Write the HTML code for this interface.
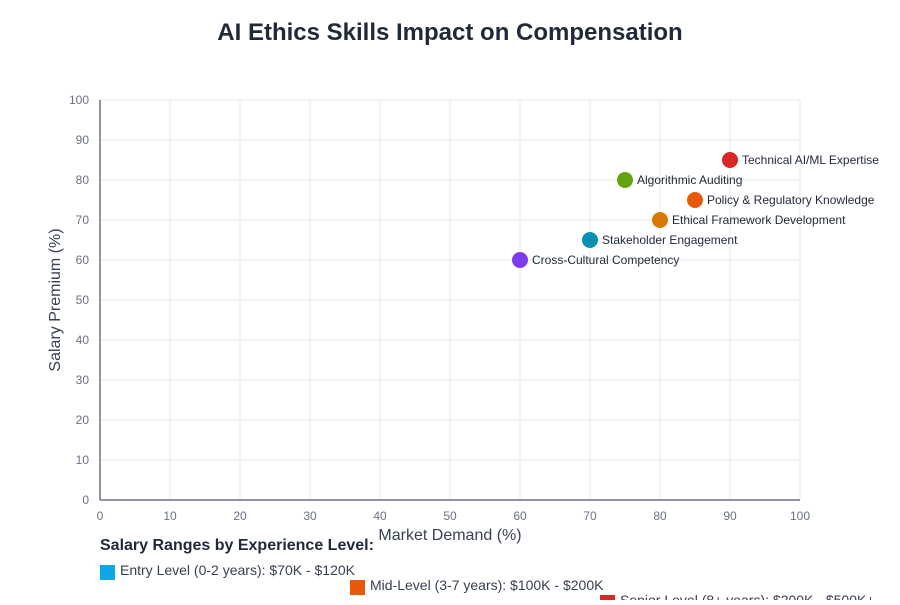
<!DOCTYPE html>
<html><head><meta charset="utf-8"><style>
body{margin:0;background:#fff;width:900px;height:600px;overflow:hidden;font-family:"Liberation Sans",sans-serif}
</style></head><body>
<svg width="900" height="600" xmlns="http://www.w3.org/2000/svg" font-family="Liberation Sans, sans-serif">
<text x="450" y="40" text-anchor="middle" font-size="24" font-weight="bold" fill="#1f2937">AI Ethics Skills Impact on Compensation</text>
<g stroke="#e5e7eb" stroke-width="1">
<line x1="170" y1="100" x2="170" y2="500"/><line x1="240" y1="100" x2="240" y2="500"/><line x1="310" y1="100" x2="310" y2="500"/><line x1="380" y1="100" x2="380" y2="500"/><line x1="450" y1="100" x2="450" y2="500"/><line x1="520" y1="100" x2="520" y2="500"/><line x1="590" y1="100" x2="590" y2="500"/><line x1="660" y1="100" x2="660" y2="500"/><line x1="730" y1="100" x2="730" y2="500"/><line x1="800" y1="100" x2="800" y2="500"/>
<line x1="100" y1="100" x2="800" y2="100"/><line x1="100" y1="140" x2="800" y2="140"/><line x1="100" y1="180" x2="800" y2="180"/><line x1="100" y1="220" x2="800" y2="220"/><line x1="100" y1="260" x2="800" y2="260"/><line x1="100" y1="300" x2="800" y2="300"/><line x1="100" y1="340" x2="800" y2="340"/><line x1="100" y1="380" x2="800" y2="380"/><line x1="100" y1="420" x2="800" y2="420"/><line x1="100" y1="460" x2="800" y2="460"/>
</g>
<line x1="100" y1="100" x2="100" y2="500" stroke="#6b7280" stroke-width="1.5"/>
<line x1="100" y1="500" x2="800" y2="500" stroke="#6b7280" stroke-width="1.5"/>
<g font-size="12" fill="#6b7280" text-anchor="end">
<text x="89" y="104">100</text><text x="89" y="144">90</text><text x="89" y="184">80</text><text x="89" y="224">70</text><text x="89" y="264">60</text><text x="89" y="304">50</text><text x="89" y="344">40</text><text x="89" y="384">30</text><text x="89" y="424">20</text><text x="89" y="464">10</text><text x="89" y="504">0</text>
</g>
<g font-size="12" fill="#6b7280" text-anchor="middle">
<text x="100" y="520">0</text><text x="170" y="520">10</text><text x="240" y="520">20</text><text x="310" y="520">30</text><text x="380" y="520">40</text><text x="450" y="520">50</text><text x="520" y="520">60</text><text x="590" y="520">70</text><text x="660" y="520">80</text><text x="730" y="520">90</text><text x="800" y="520">100</text>
</g>
<text x="450" y="540" text-anchor="middle" font-size="16" fill="#374151">Market Demand (%)</text>
<text transform="translate(60,300) rotate(-90)" text-anchor="middle" font-size="16" fill="#374151">Salary Premium (%)</text>
<g font-size="12" fill="#1f2937">
<circle cx="730" cy="160" r="8" fill="#dc2626"/><text x="742" y="164">Technical AI/ML Expertise</text>
<circle cx="625" cy="180" r="8" fill="#65a30d"/><text x="637" y="184">Algorithmic Auditing</text>
<circle cx="695" cy="200" r="8" fill="#ea580c"/><text x="707" y="204">Policy &amp; Regulatory Knowledge</text>
<circle cx="660" cy="220" r="8" fill="#d97706"/><text x="672" y="224">Ethical Framework Development</text>
<circle cx="590" cy="240" r="8" fill="#0891b2"/><text x="602" y="244">Stakeholder Engagement</text>
<circle cx="520" cy="260" r="8" fill="#7c3aed"/><text x="532" y="264">Cross-Cultural Competency</text>
</g>
<text x="100" y="550" font-size="16" font-weight="bold" fill="#1f2937">Salary Ranges by Experience Level:</text>
<g font-size="14" fill="#374151">
<rect x="100" y="565" width="15" height="15" fill="#0ea5e9"/><text x="120" y="575">Entry Level (0-2 years): $70K - $120K</text>
<rect x="350" y="580" width="15" height="15" fill="#ea580c"/><text x="370" y="590">Mid-Level (3-7 years): $100K - $200K</text>
<rect x="600" y="595" width="15" height="15" fill="#dc2626"/><text x="620" y="605">Senior Level (8+ years): $200K - $500K+</text>
</g>
</svg>
</body></html>
